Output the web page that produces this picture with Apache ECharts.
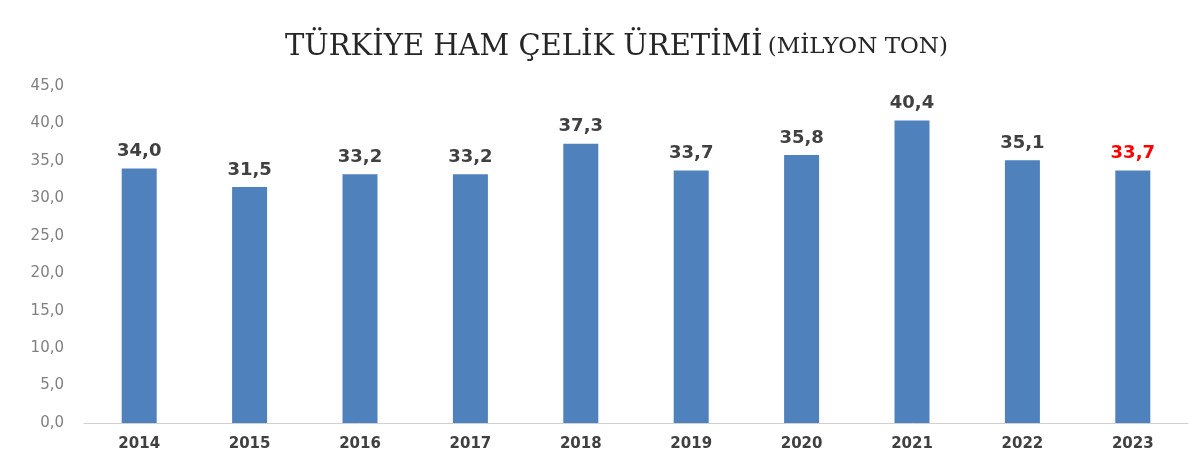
<!DOCTYPE html>
<html><head><meta charset="utf-8">
<script src="https://cdn.jsdelivr.net/npm/echarts@6/dist/echarts.min.js"></script>
<style>html,body{margin:0;padding:0;background:#fff}#c{width:1189px;height:461px}</style>
</head><body><div id="c"></div>
<script>
var years = ['2014','2015','2016','2017','2018','2019','2020','2021','2022','2023'];
var production = [34.0, 31.5, 33.2, 33.2, 37.3, 33.7, 35.8, 40.4, 35.1, 33.7];
var highlightIndex = 9;
var fmt = function(v){ return Number(v).toFixed(1).replace('.', ','); };
var chart = echarts.init(document.getElementById('c'));
chart.setOption({
  animation: false,
  backgroundColor: '#fff',
  title: {
    text: '{a|TÜRKİYE HAM ÇELİK ÜRETİMİ} {b|(MİLYON TON)}',
    left: 280, top: 28,
    textStyle: {
      rich: {
        a: { fontFamily: 'DejaVu Serif', fontSize: 29, fontWeight: 'normal', color: '#262626' },
        b: { fontFamily: 'DejaVu Serif', fontSize: 23, fontWeight: 'normal', color: '#262626' }
      }
    }
  },
  grid: { left: 84, right: 1, top: 86, bottom: 38 },
  xAxis: {
    type: 'category', data: years,
    axisLine: { lineStyle: { color: '#d0d0d0' } },
    axisTick: { show: false },
    axisLabel: { color: '#404040', fontWeight: 'bold', fontSize: 15, fontFamily: 'DejaVu Sans', margin: 14 }
  },
  yAxis: {
    type: 'value', min: 0, max: 45, interval: 5,
    splitLine: { show: false },
    axisLine: { show: false }, axisTick: { show: false },
    axisLabel: { color: '#808080', fontSize: 15, fontFamily: 'DejaVu Sans', margin: 20, formatter: fmt }
  },
  series: [{
    type: 'bar', barWidth: 35,
    itemStyle: { color: '#4F81BD' },
    data: production.map(function(v, i){
      return i === highlightIndex ? { value: v, label: { color: '#ff0000' } } : v;
    }),
    label: {
      show: true, position: 'top', distance: 8,
      color: '#404040', fontWeight: 'bold', fontSize: 18, fontFamily: 'DejaVu Sans',
      formatter: function(p){ return fmt(p.value); }
    }
  }]
});
</script></body></html>
